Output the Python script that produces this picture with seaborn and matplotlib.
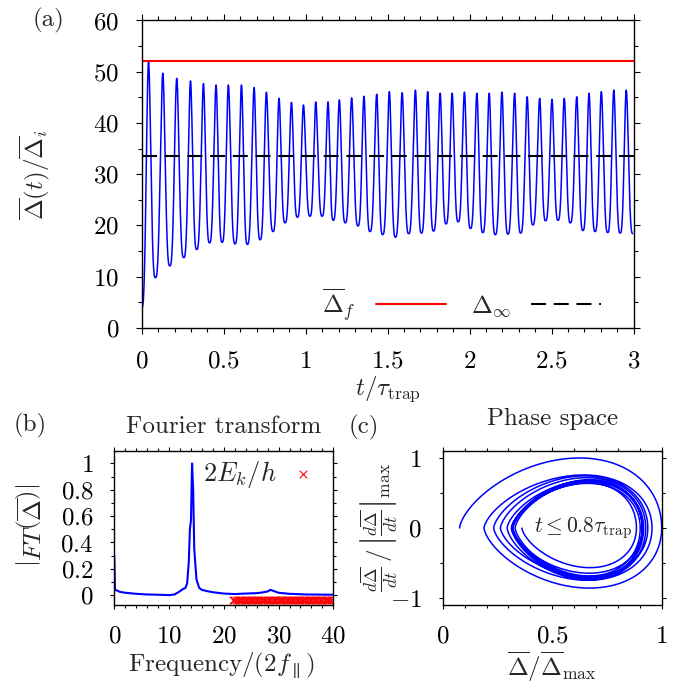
import numpy as np
import matplotlib
matplotlib.use('Agg')
import matplotlib.pyplot as plt
from matplotlib.ticker import MultipleLocator, FuncFormatter
import seaborn as sns

# (a) turning points of the gap oscillation
t_extrema = [0.0, 0.041, 0.083, 0.128, 0.171, 0.213, 0.256, 0.297, 0.335, 0.376,
             0.413, 0.453, 0.490, 0.528, 0.569, 0.608, 0.644, 0.685, 0.722, 0.760,
             0.801, 0.837, 0.874, 0.913, 0.949, 0.986, 1.026, 1.061, 1.100, 1.136,
             1.168, 1.205, 1.241, 1.280, 1.319, 1.355, 1.392, 1.433, 1.469, 1.510,
             1.547, 1.588, 1.628, 1.669, 1.706, 1.744, 1.779, 1.820, 1.856, 1.893,
             1.930, 1.968, 2.005, 2.044, 2.080, 2.119, 2.156, 2.197, 2.233, 2.274,
             2.311, 2.351, 2.385, 2.427, 2.463, 2.502, 2.539, 2.577, 2.614, 2.653,
             2.691, 2.728, 2.765, 2.803, 2.842, 2.879, 2.918, 2.955, 2.995]
delta_extrema = [4.0, 52.0, 9.8, 49.7, 12.1, 48.7, 13.7, 48.2, 15.3, 47.7,
                 16.6, 47.4, 16.7, 47.4, 16.4, 47.4, 16.3, 46.9, 17.2, 46.0,
                 18.8, 44.8, 20.5, 44.0, 21.6, 43.5, 21.8, 44.1, 21.8, 44.1,
                 21.0, 44.5, 20.5, 44.9, 19.9, 45.2, 18.8, 45.6, 18.2, 46.1,
                 17.7, 45.9, 18.4, 46.4, 18.5, 46.1, 18.9, 45.8, 20.3, 45.8,
                 20.7, 46.0, 19.4, 45.8, 18.6, 45.8, 18.2, 46.0, 18.3, 45.8,
                 18.5, 45.1, 20.1, 44.8, 20.9, 44.6, 21.0, 44.8, 20.5, 45.1,
                 19.0, 45.8, 18.8, 46.1, 18.6, 46.4, 18.5, 46.4, 18.4]
delta_f = 52.0
delta_inf = 33.5

# (b) Fourier amplitude and the 2E_k/h levels
freq = [0.0, 0.12, 0.5, 1.0, 2.0, 4.0, 6.0, 8.0, 10.0, 11.0, 12.0, 12.5, 13.0,
        13.3, 13.6, 13.8, 14.0, 14.2, 14.4, 14.6, 15.0, 15.5, 16.0, 17.0, 18.0,
        20.0, 22.0, 24.0, 26.0, 27.0, 28.0, 28.5, 29.0, 30.0, 32.0, 35.0, 40.0]
ft_amp = [0.30, 0.04, 0.035, 0.025, 0.018, 0.010, 0.005, 0.003, 0.0, 0.005,
          0.03, 0.045, 0.055, 0.09, 0.25, 0.50, 0.57, 1.0, 0.80, 0.35, 0.12,
          0.055, 0.04, 0.03, 0.022, 0.012, 0.008, 0.012, 0.015, 0.02, 0.028,
          0.04, 0.033, 0.018, 0.01, 0.005, 0.003]
level_freq = [21.6, 21.9, 22.2, 22.5, 22.8, 23.1, 23.4, 23.7, 24.0, 24.3, 24.6,
              24.9, 25.2, 25.5, 25.8, 26.1, 26.4, 26.7, 27.0, 27.3, 27.6, 27.9,
              28.2, 28.5, 28.8, 29.1, 29.4, 29.7, 30.0, 30.3, 30.6, 30.9, 31.2,
              31.5, 31.8, 32.1, 32.4, 32.7, 33.0, 33.3, 33.6, 33.9, 34.2, 34.5,
              34.8, 35.1, 35.4, 35.7, 36.0, 36.3, 36.6, 36.9, 37.2, 37.5, 37.8,
              38.1, 38.4, 38.7, 39.0, 39.3, 39.6, 39.9]
level_y = -0.04

# (c) phase portrait uses the early part of (a)
t_phase_max = 0.8


def smooth_path(t_knots, v_knots, n=80, p=1.5):
    """Join the turning points with smooth monotone pieces (slightly sharper tops)."""
    ts, vs = [], []
    for t0, t1, v0, v1 in zip(t_knots[:-1], t_knots[1:], v_knots[:-1], v_knots[1:]):
        s = np.linspace(0, 1, n, endpoint=False)
        if v1 > v0:
            g = (1 - np.cos(np.pi * s ** p)) / 2
            v = v0 + (v1 - v0) * g
        else:
            g = (1 - np.cos(np.pi * (1 - s) ** p)) / 2
            v = v1 + (v0 - v1) * g
        ts.append(t0 + (t1 - t0) * s)
        vs.append(v)
    ts.append([t_knots[-1]])
    vs.append([v_knots[-1]])
    return np.concatenate(ts), np.concatenate(vs)


t, delta = smooth_path(t_extrema, delta_extrema)
slope = np.gradient(delta, t)
early = t <= t_phase_max
phase_x = delta[early] / delta[early].max()
phase_y = slope[early] / np.abs(slope[early]).max()

sns.set_style('ticks')
plt.rcParams['font.family'] = 'cmr10'
plt.rcParams['mathtext.fontset'] = 'cm'
plt.rcParams['font.size'] = 18
plt.rcParams['axes.linewidth'] = 1.0
plt.rcParams['axes.unicode_minus'] = False

fig = plt.figure(figsize=(6.85, 6.83), dpi=100)
ax_a = fig.add_axes([0.207, 0.520, 0.718, 0.450])
ax_b = fig.add_axes([0.1669, 0.1142, 0.3197, 0.2255])
ax_c = fig.add_axes([0.6463, 0.1142, 0.3197, 0.2255])

fmt = FuncFormatter(lambda v, _: f'${v:g}$')


def style_axis(ax, major_len, minor_len):
    ax.tick_params(which='both', direction='out', top=True, right=True,
                   labelsize=18, pad=12, width=0.8, colors='black')
    ax.tick_params(which='major', length=major_len)
    ax.tick_params(which='minor', length=minor_len)
    ax.xaxis.set_major_formatter(fmt)
    ax.yaxis.set_major_formatter(fmt)
    for sp in ax.spines.values():
        sp.set_visible(True)
        sp.set_color('black')


# (a)
sns.lineplot(x=t, y=delta, ax=ax_a, color='blue', lw=1.1, estimator=None, sort=False)
sns.lineplot(x=[0, 3], y=[delta_f, delta_f], ax=ax_a, color='red', lw=1.5,
             label=r'$\overline{\Delta}_f$')
sns.lineplot(x=[0, 3], y=[delta_inf, delta_inf], ax=ax_a, color='black', lw=1.5,
             dashes=False, label=r'$\Delta_\infty$').lines[-1].set_dashes((7.2, 3.7))
ax_a.set_xlim(0, 3)
ax_a.set_ylim(0, 60)
ax_a.xaxis.set_major_locator(MultipleLocator(0.5))
ax_a.xaxis.set_minor_locator(MultipleLocator(0.1))
ax_a.yaxis.set_major_locator(MultipleLocator(10))
ax_a.yaxis.set_minor_locator(MultipleLocator(5))
style_axis(ax_a, 4.3, 3.0)
ax_a.set_xlabel(r'$t/\tau_{\rm trap}$', fontsize=18)
ax_a.set_ylabel(r'$\overline{\Delta}(t)/\overline{\Delta}_i$', fontsize=18)
ax_a.xaxis.label.set_va('center')
ax_a.yaxis.label.set_va('center')
ax_a.xaxis.set_label_coords(0.5, -0.2)
ax_a.yaxis.set_label_coords(-0.218, 0.5)
h, l = ax_a.get_legend_handles_labels()
ax_a.legend(h, l, loc='center right', bbox_to_anchor=(0.98, 0.075), ncol=2,
            frameon=False, markerfirst=False, handlelength=2.8, columnspacing=1.0,
            handletextpad=0.8, fontsize=18)

# (b)
sns.lineplot(x=freq, y=ft_amp, ax=ax_b, color='blue', lw=1.5, estimator=None, sort=False)
sns.scatterplot(x=level_freq, y=[level_y] * len(level_freq), ax=ax_b, color='red',
                marker='x', s=30, linewidth=0.8, label=r'$2E_k/h$')
ax_b.set_xlim(0, 40)
ax_b.set_ylim(-0.075, 1.095)
ax_b.xaxis.set_major_locator(MultipleLocator(10))
ax_b.xaxis.set_minor_locator(MultipleLocator(2))
ax_b.yaxis.set_major_locator(MultipleLocator(0.2))
ax_b.yaxis.set_minor_locator(MultipleLocator(0.1))
style_axis(ax_b, 3.0, 2.0)
ax_b.set_xlabel(r'Frequency$/(2f_{\parallel})$', fontsize=18)
ax_b.set_ylabel(r'$\left|FT\left(\overline{\Delta}\right)\right|$', fontsize=18)
ax_b.xaxis.label.set_va('center')
ax_b.yaxis.label.set_va('center')
ax_b.xaxis.set_label_coords(0.49, -0.39)
ax_b.yaxis.set_label_coords(-0.376, 0.52)
ax_b.legend(loc='center right', bbox_to_anchor=(1.03, 0.845), frameon=False,
            markerfirst=False, handlelength=1.0, handletextpad=0.5, fontsize=19)
ax_b.text(0.5, 1.117, 'Fourier transform', transform=ax_b.transAxes,
          ha='center', va='baseline', fontsize=18)

# (c)
sns.lineplot(x=phase_x, y=phase_y, ax=ax_c, color='blue', lw=1.1, estimator=None, sort=False)
ax_c.set_xlim(0, 1)
ax_c.set_ylim(-1.1, 1.1)
ax_c.xaxis.set_major_locator(MultipleLocator(0.5))
ax_c.xaxis.set_minor_locator(MultipleLocator(0.1))
ax_c.yaxis.set_major_locator(MultipleLocator(1))
ax_c.yaxis.set_minor_locator(MultipleLocator(0.5))
style_axis(ax_c, 3.0, 2.0)
ax_c.set_xlabel(r'$\overline{\Delta}/\overline{\Delta}_{\max}$', fontsize=18)
ax_c.set_ylabel(r'$\frac{d\overline{\Delta}}{dt}\,/\,\left|\frac{d\overline{\Delta}}{dt}\right|_{\max}$',
                fontsize=18)
ax_c.xaxis.label.set_va('center')
ax_c.yaxis.label.set_va('center')
ax_c.xaxis.set_label_coords(0.5, -0.405)
ax_c.yaxis.set_label_coords(-0.295, 0.506)
ax_c.text(0.64, 0, r'$t \leq 0.8\tau_{\rm trap}$', ha='center', va='center', fontsize=15.5)
ax_c.text(0.5, 1.169, 'Phase space', transform=ax_c.transAxes,
          ha='center', va='baseline', fontsize=18)

fig.text(48 / 685, 1 - 20 / 683, '(a)', ha='center', va='center', fontsize=18)
fig.text(30 / 685, 1 - 425 / 683, '(b)', ha='center', va='center', fontsize=18)
fig.text(364 / 685, 1 - 427 / 683, '(c)', ha='center', va='center', fontsize=18)

fig.savefig('out.png', dpi=100)
